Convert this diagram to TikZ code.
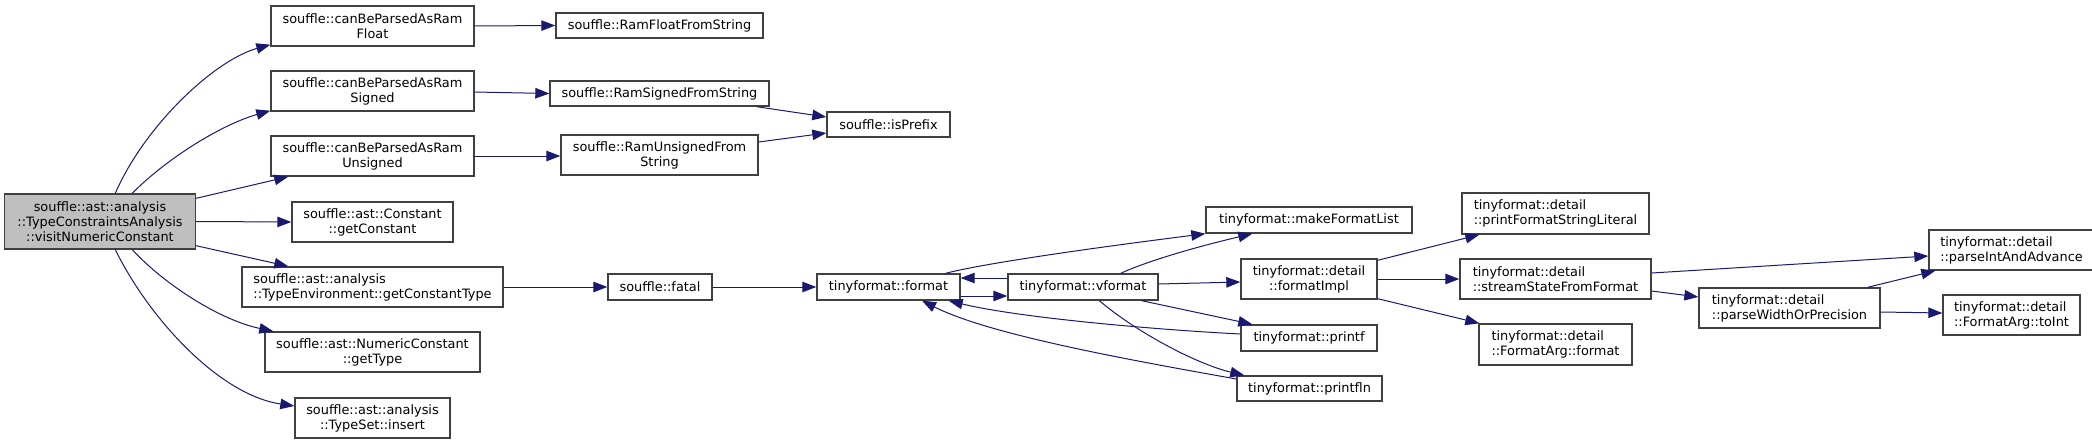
\documentclass[tikz,border=0pt]{standalone}
\usepackage{fontspec}
\setmainfont{DejaVu Sans}
\usetikzlibrary{arrows.meta,calc}
\definecolor{edgeblue}{HTML}{191970}
\definecolor{boxline}{HTML}{404040}
\definecolor{mainfill}{HTML}{BFBFBF}
\begin{document}
\begin{tikzpicture}[x=1pt,y=-1pt,
  box/.style={draw=boxline,line width=1.4pt,fill=white,inner sep=0pt,align=center,
    font=\fontsize{12.9}{15}\selectfont},
  lbox/.style={box,align=left},
  edge/.style={draw=edgeblue,line width=1pt,-{Triangle[length=14pt,width=10.5pt]}}]
\useasboundingbox (0,0) rectangle (2092,444);
% column 1
\node[box,fill=mainfill,minimum width=191pt,minimum height=55pt] (main) at (100,221.5)
  {souffle::ast::analysis\\::TypeConstraintsAnalysis\\::visitNumericConstant};
% column 2
\node[box,minimum width=203pt,minimum height=40pt] (cfloat) at (372.5,26) {souffle::canBeParsedAsRam\\Float};
\node[box,minimum width=203pt,minimum height=40pt] (csigned) at (372.5,91) {souffle::canBeParsedAsRam\\Signed};
\node[box,minimum width=203pt,minimum height=40pt] (cunsigned) at (372.5,156) {souffle::canBeParsedAsRam\\Unsigned};
\node[box,minimum width=161pt,minimum height=40pt] (getconst) at (372.5,222) {souffle::ast::Constant\\::getConstant};
\node[lbox,minimum width=261pt,minimum height=40pt] (getctype) at (372.5,287) {souffle::ast::analysis\\::TypeEnvironment::getConstantType};
\node[box,minimum width=215pt,minimum height=40pt] (nctype) at (372.5,352) {souffle::ast::NumericConstant\\::getType};
\node[box,minimum width=155pt,minimum height=40pt] (insert) at (372.5,418) {souffle::ast::analysis\\::TypeSet::insert};
% column 3
\node[box,minimum width=207pt,minimum height=25pt] (rfloat) at (659.5,25.5) {souffle::RamFloatFromString};
\node[box,minimum width=219pt,minimum height=25pt] (rsigned) at (659.5,93.5) {souffle::RamSignedFromString};
\node[box,minimum width=197pt,minimum height=40pt] (runsigned) at (659.5,155) {souffle::RamUnsignedFrom\\String};
\node[box,minimum width=104pt,minimum height=26pt] (fatal) at (660,287) {souffle::fatal};
% column 4
\node[box,minimum width=123pt,minimum height=25pt] (isprefix) at (888.5,124.5) {souffle::isPrefix};
\node[box,minimum width=143pt,minimum height=26pt] (format) at (888.5,287) {tinyformat::format};
% column 5
\node[box,minimum width=150pt,minimum height=26pt] (vformat) at (1083,287) {tinyformat::vformat};
% column 6
\node[box,minimum width=206pt,minimum height=26pt] (mfl) at (1309,220) {tinyformat::makeFormatList};
\node[box,minimum width=136pt,minimum height=40pt] (fimpl) at (1309,279) {tinyformat::detail\\::formatImpl};
\node[box,minimum width=136pt,minimum height=26pt] (printf) at (1309,338) {tinyformat::printf};
\node[box,minimum width=145pt,minimum height=25pt] (printfln) at (1309.5,388.5) {tinyformat::printfln};
% column 7
\node[lbox,minimum width=187pt,minimum height=41pt] (pfsl) at (1555.5,213.5) {tinyformat::detail\\::printFormatStringLiteral};
\node[lbox,minimum width=191pt,minimum height=40pt] (ssff) at (1555.5,279) {tinyformat::detail\\::streamStateFromFormat};
\node[lbox,minimum width=153pt,minimum height=41pt] (faformat) at (1555.5,344.5) {tinyformat::detail\\::FormatArg::format};
% column 8
\node[lbox,minimum width=181pt,minimum height=40pt] (pwop) at (1789.5,308) {tinyformat::detail\\::parseWidthOrPrecision};
% column 9
\node[lbox,minimum width=165pt,minimum height=40pt] (piaa) at (2011.5,250) {tinyformat::detail\\::parseIntAndAdvance};
\node[lbox,minimum width=137pt,minimum height=40pt] (toint) at (2011.5,315) {tinyformat::detail\\::FormatArg::toInt};
% edges from main
\draw[edge] ($(main.north west)+(111.5,0)$) .. controls (145,125) and (215,60) .. ($(cfloat.south west)+(0,-2)$);
\draw[edge] ($(main.north west)+(128.5,0)$) .. controls (165,160) and (220,125) .. ($(csigned.south west)+(0,-1)$);
\draw[edge] ($(main.north east)+(0,5)$) -- ($(cunsigned.south west)+(18,0)$);
\draw[edge] (main.east) -- (getconst.west);
\draw[edge] ($(main.south east)+(0,-4)$) -- ($(getctype.north west)+(47,0)$);
\draw[edge] ($(main.south west)+(128.5,0)$) .. controls (165,285) and (220,320) .. ($(nctype.north west)+(9,0)$);
\draw[edge] ($(main.south west)+(111.5,0)$) .. controls (150,320) and (220,395) .. ($(insert.west)+(0,-12)$);
% column 2 -> 3
\draw[edge] (cfloat.east) -- (rfloat.west);
\draw[edge] ($(csigned.east)+(0,1)$) -- (rsigned.west);
\draw[edge] ($(cunsigned.east)$) -- ($(runsigned.west)+(0,1)$);
\draw[edge] (getctype.east) -- (fatal.west);
% column 3 -> 4
\draw[edge] ($(rsigned.south east)+(-13,0)$) -- ($(isprefix.west)+(0,-7.5)$);
\draw[edge] ($(runsigned.east)+(0,-13)$) -- ($(isprefix.west)+(0,8.5)$);
\draw[edge] (fatal.east) -- (format.west);
% format / vformat
\draw[edge] ($(format.east)+(0,9)$) -- ($(vformat.west)+(0,9)$);
\draw[edge] ($(vformat.west)+(0,-9)$) -- ($(format.east)+(0,-9)$);
\draw[edge] ($(format.north east)+(-15,0)$) .. controls (985,263) and (1100,247) .. (mfl.south west);
\draw[edge] ($(vformat.north east)+(-38,0)$) .. controls (1150,260) and (1200,246) .. ($(mfl.south west)+(47,0)$);
\draw[edge] ($(vformat.east)+(0,-3)$) -- ($(fimpl.west)+(0,3)$);
\draw[edge] ($(vformat.south east)+(-17,0)$) -- ($(printf.north west)+(12,0)$);
\draw[edge] ($(vformat.south west)+(92,0)$) .. controls (1140,335) and (1200,365) .. ($(printfln.north west)+(8,0)$);
\draw[edge] ($(printf.west)+(0,-4)$) .. controls (1160,330) and (1020,318) .. ($(format.south east)+(-12,0)$);
\draw[edge] ($(printfln.west)+(0,-9.5)$) .. controls (1130,360) and (990,335) .. ($(format.south)+(33.5,0)$);
% formatImpl
\draw[edge] ($(fimpl.north east)+(0,2)$) -- ($(pfsl.south west)+(18,0)$);
\draw[edge] (fimpl.east) -- (ssff.west);
\draw[edge] ($(fimpl.south east)+(0,-1)$) -- ($(faformat.north west)+(1,0)$);
% streamState
\draw[edge] ($(ssff.east)+(0,-6)$) -- ($(piaa.west)+(0,6)$);
\draw[edge] ($(ssff.east)+(0,12)$) -- ($(pwop.west)+(0,-11)$);
\draw[edge] ($(pwop.north east)+(-13,0)$) -- ($(piaa.south west)+(7,0)$);
\draw[edge] ($(pwop.east)+(0,4)$) -- ($(toint.west)+(0,-2)$);
\end{tikzpicture}
\end{document}
